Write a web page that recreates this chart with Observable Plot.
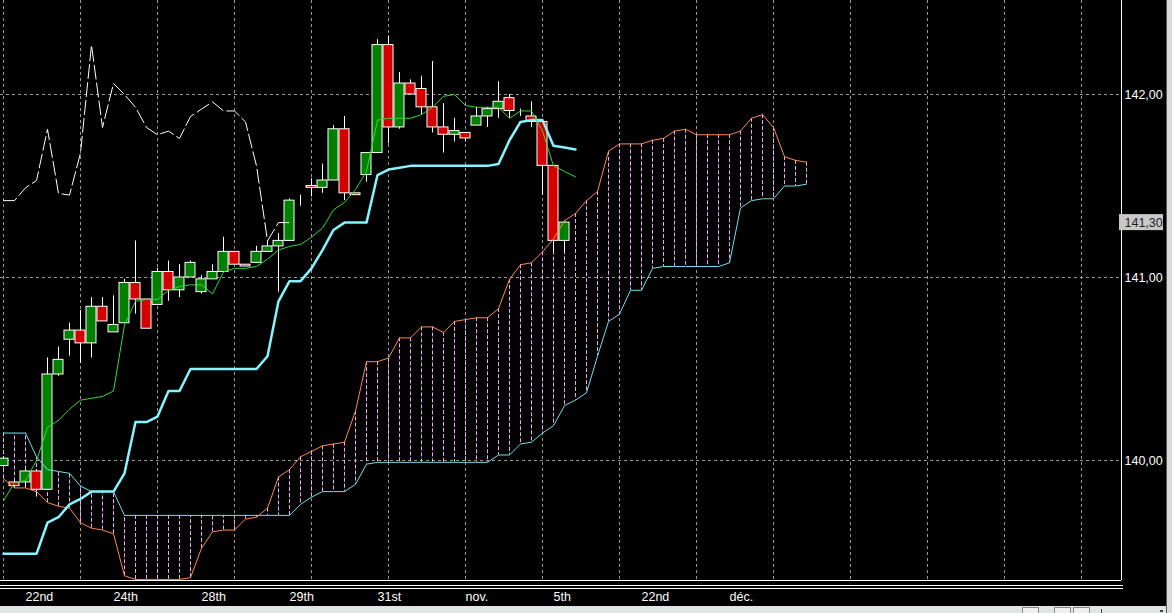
<!DOCTYPE html>
<html>
<head>
<meta charset="utf-8">
<script src="https://cdn.jsdelivr.net/npm/d3@7"></script>
<script src="https://cdn.jsdelivr.net/npm/@observablehq/plot@0.6"></script>
<style>
html,body{margin:0;padding:0;background:#000;width:1172px;height:613px;overflow:hidden;}
#chart{position:absolute;left:0;top:0;}
.chrome{position:absolute;}
</style>
</head>
<body>
<div id="chart"></div>
<div class="chrome" style="left:0;top:585px;width:1123px;height:1px;background:#fff"></div>
<div class="chrome" style="left:0;top:588px;width:1123px;height:1px;background:#fff"></div>
<div class="chrome" style="left:0;top:606px;width:1166px;height:7px;background:#e0e6e4"></div>
<div class="chrome" style="left:1022px;top:607px;width:15px;height:6px;border:1px solid #8a8a8a;border-bottom:none;background:#eef0ef"></div>
<div class="chrome" style="left:1054px;top:607px;width:15px;height:6px;border:1px solid #8a8a8a;border-bottom:none;background:#eef0ef"></div>
<div class="chrome" style="left:1073px;top:607px;width:15px;height:6px;border:1px solid #8a8a8a;border-bottom:none;background:#eef0ef"></div>
<div class="chrome" style="left:1101px;top:609px;width:1px;height:4px;background:#444"></div>
<div class="chrome" style="left:1160px;top:610px;width:3px;height:2px;background:#444"></div>
<div class="chrome" style="left:1166px;top:0;width:1px;height:613px;background:#5a5a5a"></div>
<div class="chrome" style="left:1167px;top:0;width:5px;height:613px;background:#d8dcd8"></div>
<script>
// ---- data ----
const opens  = [139.97,139.88,139.88,139.94,139.84,140.47,140.66,140.71,140.64,140.84,140.70,140.75,140.97,140.88,140.85,141.03,140.93,141.00,140.92,140.99,141.03,141.14,141.07,141.08,141.14,141.17,141.20,141.42,141.50,141.49,141.53,141.81,141.46,141.56,141.68,142.27,141.82,142.06,142.03,141.93,141.82,141.78,141.79,141.83,141.88,141.92,141.98,141.91,141.88,141.85,141.61,141.20,141.30];
const highs  = [140.02,139.89,139.95,139.95,140.56,140.62,140.75,140.82,140.89,140.89,140.90,140.99,141.20,140.88,141.05,141.09,141.07,141.09,141.01,141.07,141.22,141.14,141.07,141.17,141.20,141.24,141.43,141.45,141.54,141.62,141.83,141.88,141.46,141.68,142.30,142.32,142.12,142.08,142.10,142.18,141.95,141.87,141.79,141.93,141.93,142.07,142.00,141.92,141.96,141.86,141.61,141.30,141.30];
const lows   = [139.96,139.85,139.85,139.80,139.84,140.46,140.57,140.53,140.56,140.76,140.70,140.75,140.80,140.72,140.85,140.87,140.89,141.00,140.91,140.99,141.03,141.07,141.06,141.08,141.14,140.92,141.20,141.39,141.44,141.46,141.53,141.42,141.45,141.52,141.68,141.73,141.81,142.00,141.89,141.79,141.68,141.74,141.74,141.83,141.82,141.87,141.87,141.88,141.82,141.45,141.14,141.14,141.30];
const closes = [140.01,139.86,139.94,139.84,140.47,140.55,140.71,140.64,140.84,140.76,140.74,140.97,140.88,140.72,141.03,140.93,141.00,141.08,140.99,141.03,141.14,141.07,141.06,141.14,141.17,141.20,141.42,141.42,141.49,141.53,141.81,141.46,141.45,141.68,142.27,141.82,142.06,142.00,141.93,141.82,141.78,141.80,141.76,141.88,141.92,141.96,141.91,141.91,141.85,141.61,141.20,141.30,141.30];

const tenkan = [139.78,139.88,139.89,140.00,140.18,140.22,140.28,140.33,140.34,140.35,140.38,140.74,140.87,140.88,140.88,140.93,140.95,140.96,140.96,140.91,141.03,141.05,141.05,141.06,141.10,141.15,141.17,141.18,141.22,141.27,141.37,141.41,141.48,141.58,141.86,141.87,141.87,141.87,141.89,141.93,141.99,142.00,141.94,141.93,141.93,141.93,141.87,141.91,141.91,141.80,141.61,141.58,141.55];
const kijun  = [139.49,139.49,139.49,139.49,139.66,139.69,139.76,139.79,139.83,139.83,139.83,139.93,140.21,140.21,140.24,140.38,140.38,140.50,140.50,140.50,140.50,140.50,140.50,140.50,140.57,140.87,140.98,140.98,141.05,141.15,141.26,141.30,141.30,141.30,141.56,141.59,141.60,141.61,141.61,141.61,141.61,141.61,141.61,141.61,141.61,141.62,141.75,141.85,141.86,141.86,141.72,141.71,141.70];
const spanA  = [139.90,139.85,139.85,139.83,139.77,139.75,139.74,139.66,139.63,139.62,139.60,139.37,139.35,139.35,139.35,139.35,139.35,139.36,139.52,139.61,139.62,139.62,139.68,139.69,139.74,139.91,139.95,140.02,140.05,140.08,140.09,140.10,140.27,140.54,140.54,140.56,140.67,140.67,140.73,140.73,140.70,140.76,140.77,140.78,140.78,140.83,140.99,141.07,141.08,141.14,141.21,141.31,141.35,141.42,141.47,141.69,141.73,141.73,141.73,141.75,141.76,141.80,141.81,141.78,141.78,141.78,141.78,141.80,141.87,141.89,141.82,141.66,141.64,141.63];
const spanB  = [140.15,140.15,140.15,140.02,139.95,139.94,139.93,139.86,139.83,139.83,139.83,139.70,139.70,139.70,139.70,139.70,139.70,139.70,139.70,139.70,139.70,139.70,139.70,139.70,139.70,139.70,139.70,139.76,139.80,139.83,139.83,139.83,139.87,139.98,139.99,139.99,139.99,139.99,139.99,139.99,139.99,139.99,139.99,139.99,139.99,140.03,140.03,140.09,140.10,140.15,140.19,140.30,140.33,140.37,140.57,140.76,140.80,140.93,140.93,141.05,141.06,141.06,141.06,141.06,141.06,141.06,141.08,141.38,141.42,141.43,141.43,141.50,141.50,141.51];
const chikou = [141.42,141.42,141.49,141.53,141.81,141.46,141.45,141.68,142.27,141.82,142.06,142.00,141.93,141.82,141.78,141.80,141.76,141.88,141.92,141.96,141.91,141.91,141.85,141.61,141.20,141.30,141.30];

const lastPrice = 141.30;
const priceTicks = [140, 141, 142];
const gridBars = [0, 7, 14, 21, 28, 35, 42, 49, 56, 63, 70, 77, 84, 91, 98];
const dateTickBars = [2, 10, 18, 26, 34, 42, 50, 58, 66];
const dateLabels = ["22nd", "24th", "28th", "29th", "31st", "nov.", "5th", "22nd", "déc."];

// ---- derived tables ----
const candles = opens.map((o, i) => ({i, o, h: highs[i], l: lows[i], c: closes[i]}));
const series = arr => arr.map((v, i) => ({i, v}));
const cloud = spanA.map((a, i) => ({i, a, b: spanB[i]}));
const fmt = d => d.toFixed(2).replace(".", ",");

const xDomain = [-3 / 11, 1118 / 11];
const yDomain = [142 - 486 / 183, 142 + 94 / 183];
const FONT = "'Liberation Sans', Arial, sans-serif";

const chart = Plot.plot({
  width: 1172,
  height: 613,
  marginLeft: 0,
  marginRight: 51,
  marginTop: 0,
  marginBottom: 33,
  x: {type: "linear", domain: xDomain, label: null},
  y: {type: "linear", domain: yDomain, label: null},
  style: {background: "#000", color: "#fff", fontFamily: FONT, fontSize: "12.5px", overflow: "visible"},
  marks: [
    Plot.gridY(priceTicks, {stroke: "#969696", strokeOpacity: 1, strokeDasharray: "3,3"}),
    Plot.gridX(gridBars, {stroke: "#969696", strokeOpacity: 1, strokeDasharray: "3,3"}),
    Plot.ruleX(cloud, {x: "i", y1: "a", y2: "b", stroke: "#f0a8ff", strokeDasharray: "4,2"}),
    Plot.ruleX(candles, {x: "i", y1: "l", y2: "h", stroke: "#fff"}),
    Plot.rect(candles, {
      x1: d => d.i - 5 / 11, x2: d => d.i + 5 / 11,
      y1: "o", y2: "c",
      fill: d => d.c > d.o ? "#008000" : d.c < d.o ? "#d40000" : "#fff",
      stroke: "#fff", strokeWidth: 1
    }),
    Plot.line(series(spanB), {x: "i", y: "v", stroke: "#6ee0ee", strokeWidth: 1}),
    Plot.line(series(spanA), {x: "i", y: "v", stroke: "#ff8a4c", strokeWidth: 1}),
    Plot.line(series(chikou), {x: "i", y: "v", stroke: "#fff", strokeWidth: 1, strokeDasharray: "14,4"}),
    Plot.line(series(kijun), {x: "i", y: "v", stroke: "#84f4ff", strokeWidth: 2.5}),
    Plot.line(series(tenkan), {x: "i", y: "v", stroke: "#30dc30", strokeWidth: 1}),
    Plot.ruleY([yDomain[0]], {stroke: "#fff"}),
    Plot.ruleX([xDomain[1]], {stroke: "#fff"}),
    Plot.axisY(priceTicks, {anchor: "right", tickSize: 0, tickPadding: 3, tickFormat: fmt, fill: "#fff", fontSize: 12.5, fontFamily: FONT, label: null}),
    Plot.axisX(dateTickBars, {anchor: "bottom", tickSize: 0, tickPadding: 12, textAnchor: "start",
      tickFormat: d => dateLabels[dateTickBars.indexOf(d)], fill: "#fff", fontSize: 12.5, fontFamily: FONT, label: null}),
    Plot.rect([lastPrice], {x1: () => xDomain[1], x2: () => xDomain[1], y1: d => d, y2: d => d,
      insetLeft: -2, insetRight: -42, insetTop: -8, insetBottom: -8, fill: "#c8c8c8"}),
    Plot.text([lastPrice], {x: () => xDomain[1], y: d => d, text: fmt, textAnchor: "start", dx: 3,
      fill: "#222", fontSize: 12.5, fontFamily: FONT})
  ]
});
document.getElementById("chart").appendChild(chart);
</script>
</body>
</html>
